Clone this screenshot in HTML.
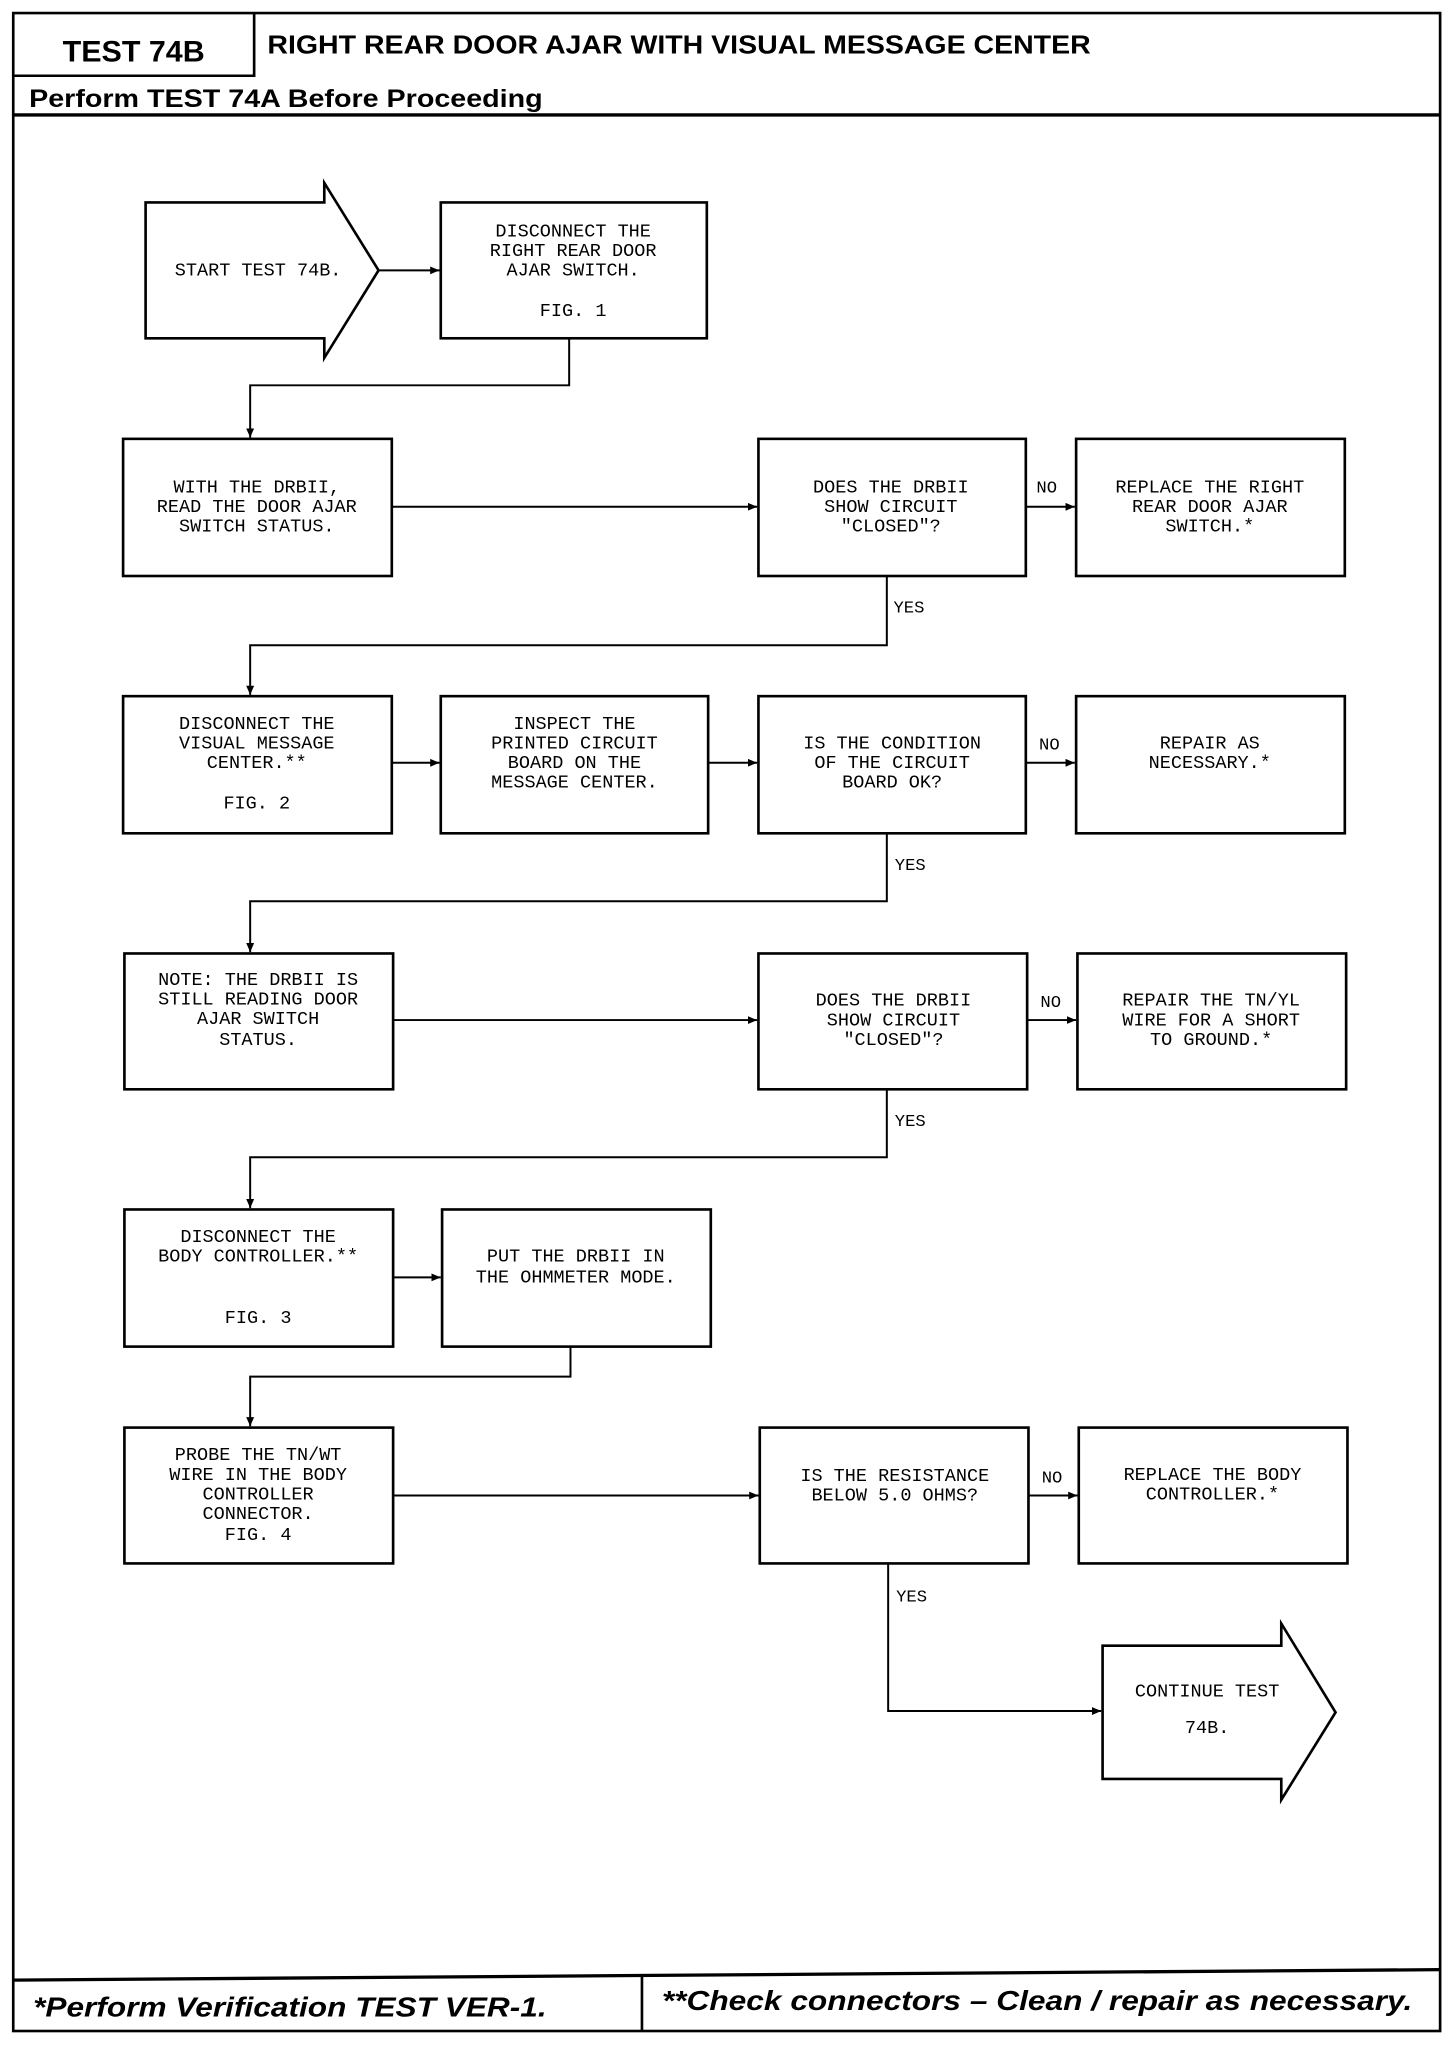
<!DOCTYPE html>
<html><head><meta charset="utf-8"><style>
html,body{margin:0;padding:0;background:#fff;}
svg{display:block;}
.t{font-family:"Liberation Mono",monospace;font-size:14px;fill:#000;text-anchor:middle;}
.l{font-family:"Liberation Mono",monospace;font-size:13px;fill:#000;}
.h{font-family:"Liberation Sans",sans-serif;font-weight:bold;fill:#000;}
.f{font-family:"Liberation Sans",sans-serif;font-weight:bold;font-style:italic;font-size:21px;fill:#000;}
</style></head><body>
<svg width="1456" height="2048" viewBox="0 0 1100 1568" preserveAspectRatio="none" xmlns="http://www.w3.org/2000/svg">
<defs><marker id="a" markerWidth="8" markerHeight="8" refX="7" refY="4" orient="auto" markerUnits="userSpaceOnUse"><path d="M0,1 L7,4 L0,7 z" fill="#000"/></marker></defs>
<g fill="none" stroke="#000" stroke-width="2">
<rect x="10" y="10" width="1078" height="1545"/>
<path d="M10,58 H192 V10"/>
<path d="M10,88 H1088" stroke-width="2.5"/>
<path d="M10,1516 L1088,1508" stroke-width="2.5"/>
<path d="M485,1513 V1555"/>
<path d="M110,155 H245 V140 L286,207 L245,274 V259 H110 Z"/>
<rect x="333" y="155" width="201" height="104"/>
<rect x="93" y="336" width="203" height="105"/>
<rect x="573" y="336" width="202" height="105"/>
<rect x="813" y="336" width="203" height="105"/>
<rect x="93" y="533" width="203" height="105"/>
<rect x="333" y="533" width="202" height="105"/>
<rect x="573" y="533" width="202" height="105"/>
<rect x="813" y="533" width="203" height="105"/>
<rect x="94" y="730" width="203" height="104"/>
<rect x="573" y="730" width="203" height="104"/>
<rect x="814" y="730" width="203" height="104"/>
<rect x="94" y="926" width="203" height="105"/>
<rect x="334" y="926" width="203" height="105"/>
<rect x="94" y="1093" width="203" height="104"/>
<rect x="574" y="1093" width="203" height="104"/>
<rect x="815" y="1093" width="203" height="104"/>
<path d="M833,1260 H968 V1243 L1009,1311 L968,1378 V1362 H833 Z"/>
</g>
<g fill="none" stroke="#000" stroke-width="1.5" marker-end="url(#a)">
<path d="M286,207 H332"/>
<path d="M430,259 V295 H189 V335"/>
<path d="M296,388 H572"/>
<path d="M775,388 H812"/>
<path d="M670,441 V494 H189 V532"/>
<path d="M296,584 H332"/>
<path d="M535,584 H572"/>
<path d="M775,584 H812"/>
<path d="M670,638 V690 H189 V729"/>
<path d="M297,781 H572"/>
<path d="M776,781 H813"/>
<path d="M670,834 V886 H189 V925"/>
<path d="M297,978 H333"/>
<path d="M431,1031 V1054 H189 V1092"/>
<path d="M297,1145 H573"/>
<path d="M777,1145 H814"/>
<path d="M671,1197 V1310 H832"/>
</g>
<text class="h" x="101" y="47" font-size="23" text-anchor="middle">TEST 74B</text>
<text class="h" x="202" y="41" font-size="20" textLength="622" lengthAdjust="spacingAndGlyphs">RIGHT REAR DOOR AJAR WITH VISUAL MESSAGE CENTER</text>
<text class="h" x="22" y="82" font-size="19" textLength="388" lengthAdjust="spacingAndGlyphs">Perform TEST 74A Before Proceeding</text>
<text class="f" x="25" y="1544" textLength="388" lengthAdjust="spacingAndGlyphs">*Perform Verification TEST VER-1.</text>
<text class="f" x="500" y="1539" textLength="567" lengthAdjust="spacingAndGlyphs">**Check connectors – Clean / repair as necessary.</text>
<g class="t">
<text x="195" y="211">START TEST 74B.</text>
<text x="433" y="181">DISCONNECT THE</text><text x="433" y="196">RIGHT REAR DOOR</text><text x="433" y="211">AJAR SWITCH.</text><text x="433" y="242">FIG. 1</text>
<text x="194" y="377">WITH THE DRBII,</text><text x="194" y="392">READ THE DOOR AJAR</text><text x="194" y="407">SWITCH STATUS.</text>
<text x="673" y="377">DOES THE DRBII</text><text x="673" y="392">SHOW CIRCUIT</text><text x="673" y="407">"CLOSED"?</text>
<text x="914" y="377">REPLACE THE RIGHT</text><text x="914" y="392">REAR DOOR AJAR</text><text x="914" y="407">SWITCH.*</text>
<text x="194" y="558">DISCONNECT THE</text><text x="194" y="573">VISUAL MESSAGE</text><text x="194" y="588">CENTER.**</text><text x="194" y="619">FIG. 2</text>
<text x="434" y="558">INSPECT THE</text><text x="434" y="573">PRINTED CIRCUIT</text><text x="434" y="588">BOARD ON THE</text><text x="434" y="603">MESSAGE CENTER.</text>
<text x="674" y="573">IS THE CONDITION</text><text x="674" y="588">OF THE CIRCUIT</text><text x="674" y="603">BOARD OK?</text>
<text x="914" y="573">REPAIR AS</text><text x="914" y="588">NECESSARY.*</text>
<text x="195" y="754">NOTE: THE DRBII IS</text><text x="195" y="769">STILL READING DOOR</text><text x="195" y="784">AJAR SWITCH</text><text x="195" y="800">STATUS.</text>
<text x="675" y="770">DOES THE DRBII</text><text x="675" y="785">SHOW CIRCUIT</text><text x="675" y="800">"CLOSED"?</text>
<text x="915" y="770">REPAIR THE TN/YL</text><text x="915" y="785">WIRE FOR A SHORT</text><text x="915" y="800">TO GROUND.*</text>
<text x="195" y="951">DISCONNECT THE</text><text x="195" y="966">BODY CONTROLLER.**</text><text x="195" y="1013">FIG. 3</text>
<text x="435" y="966">PUT THE DRBII IN</text><text x="435" y="982">THE OHMMETER MODE.</text>
<text x="195" y="1118">PROBE THE TN/WT</text><text x="195" y="1133">WIRE IN THE BODY</text><text x="195" y="1148">CONTROLLER</text><text x="195" y="1163">CONNECTOR.</text><text x="195" y="1179">FIG. 4</text>
<text x="676" y="1134">IS THE RESISTANCE</text><text x="676" y="1149">BELOW 5.0 OHMS?</text>
<text x="916" y="1133">REPLACE THE BODY</text><text x="916" y="1148">CONTROLLER.*</text>
<text x="912" y="1299">CONTINUE TEST</text><text x="912" y="1327">74B.</text>
</g>
<g class="l">
<text x="783" y="377">NO</text><text x="785" y="574">NO</text><text x="786" y="771">NO</text><text x="787" y="1135">NO</text>
<text x="675" y="469">YES</text><text x="676" y="666">YES</text><text x="676" y="862">YES</text><text x="677" y="1226">YES</text>
</g>
</svg>
</body></html>
